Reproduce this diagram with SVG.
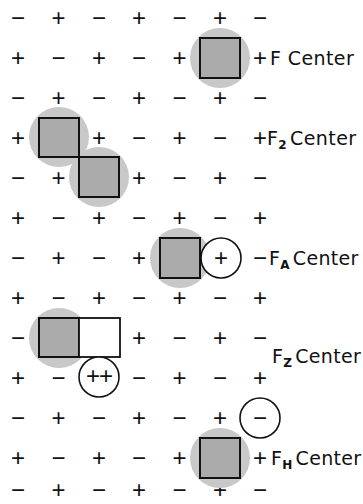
<svg xmlns="http://www.w3.org/2000/svg" width="363" height="504" viewBox="0 0 363 504">
<style>
.g{font-family:"Liberation Sans",Arial,sans-serif;font-size:24px;text-anchor:middle;fill:#111}
.halo{fill:#c8c8c8}
.sq{fill:#ababab;stroke:#111;stroke-width:2}
.esq{fill:#fff;stroke:#111;stroke-width:1.8}
.ion{fill:#fff;stroke:#111;stroke-width:1.6}
.lab{font-family:"DejaVu Sans","Liberation Sans",sans-serif;font-size:19px;fill:#111}
.sub{font-size:12px;font-weight:bold}
</style>
<rect width="363" height="504" fill="#fff"/>
<g id="lattice">
<text class="g" x="18" y="26">−</text><text class="g" x="58.5" y="26">+</text><text class="g" x="99" y="26">−</text><text class="g" x="139" y="26">+</text><text class="g" x="179.5" y="26">−</text><text class="g" x="220" y="26">+</text><text class="g" x="260" y="26">−</text>
<text class="g" x="18" y="66">+</text><text class="g" x="58.5" y="66">−</text><text class="g" x="99" y="66">+</text><text class="g" x="139" y="66">−</text><text class="g" x="179.5" y="66">+</text><text class="g" x="260" y="66">+</text>
<text class="g" x="18" y="106">−</text><text class="g" x="58.5" y="106">+</text><text class="g" x="99" y="106">−</text><text class="g" x="139" y="106">+</text><text class="g" x="179.5" y="106">−</text><text class="g" x="220" y="106">+</text><text class="g" x="260" y="106">−</text>
<text class="g" x="18" y="146">+</text><text class="g" x="99" y="146">+</text><text class="g" x="139" y="146">−</text><text class="g" x="179.5" y="146">+</text><text class="g" x="220" y="146">−</text><text class="g" x="260" y="146">+</text>
<text class="g" x="18" y="186">−</text><text class="g" x="58.5" y="186">+</text><text class="g" x="139" y="186">+</text><text class="g" x="179.5" y="186">−</text><text class="g" x="220" y="186">+</text><text class="g" x="260" y="186">−</text>
<text class="g" x="18" y="226">+</text><text class="g" x="58.5" y="226">−</text><text class="g" x="99" y="226">+</text><text class="g" x="139" y="226">−</text><text class="g" x="179.5" y="226">+</text><text class="g" x="220" y="226">−</text><text class="g" x="260" y="226">+</text>
<text class="g" x="18" y="266">−</text><text class="g" x="58.5" y="266">+</text><text class="g" x="99" y="266">−</text><text class="g" x="139" y="266">+</text><text class="g" x="260" y="266">−</text>
<text class="g" x="18" y="306">+</text><text class="g" x="58.5" y="306">−</text><text class="g" x="99" y="306">+</text><text class="g" x="139" y="306">−</text><text class="g" x="179.5" y="306">+</text><text class="g" x="220" y="306">−</text><text class="g" x="260" y="306">+</text>
<text class="g" x="18" y="346">−</text><text class="g" x="139" y="346">+</text><text class="g" x="179.5" y="346">−</text><text class="g" x="220" y="346">+</text><text class="g" x="260" y="346">−</text>
<text class="g" x="18" y="386">+</text><text class="g" x="58.5" y="386">−</text><text class="g" x="139" y="386">−</text><text class="g" x="179.5" y="386">+</text><text class="g" x="220" y="386">−</text><text class="g" x="260" y="386">+</text>
<text class="g" x="18" y="426">−</text><text class="g" x="58.5" y="426">+</text><text class="g" x="99" y="426">−</text><text class="g" x="139" y="426">+</text><text class="g" x="179.5" y="426">−</text><text class="g" x="220" y="426">+</text>
<text class="g" x="18" y="466">+</text><text class="g" x="58.5" y="466">−</text><text class="g" x="99" y="466">+</text><text class="g" x="139" y="466">−</text><text class="g" x="179.5" y="466">+</text><text class="g" x="260" y="466">+</text>
<text class="g" x="18" y="498">−</text><text class="g" x="58.5" y="498">+</text><text class="g" x="99" y="498">−</text><text class="g" x="139" y="498">+</text><text class="g" x="179.5" y="498">−</text><text class="g" x="220" y="498">+</text><text class="g" x="260" y="498">−</text>
</g>
<g id="f-center">
<circle class="halo" cx="220" cy="58" r="30"/>
<rect class="sq" x="200" y="38" width="40" height="40"/>
<text class="lab" x="270" y="65" letter-spacing="0.4">F Center</text>
</g>
<g id="f2-center">
<circle class="halo" cx="59" cy="137" r="30"/>
<circle class="halo" cx="99" cy="177" r="30"/>
<rect class="sq" x="39" y="118" width="40" height="39"/>
<rect class="sq" x="79" y="157" width="40" height="40"/>
<text class="lab" x="267" y="145" letter-spacing="0.4">F<tspan class="sub" font-size="14" dy="4">2</tspan><tspan dy="-4" dx="3">Center</tspan></text>
</g>
<g id="fa-center">
<circle class="halo" cx="180" cy="258" r="30"/>
<rect class="sq" x="160" y="238" width="40" height="40"/>
<circle class="ion" cx="221" cy="258" r="20"/>
<text class="g" x="221" y="266">+</text>
<text class="lab" x="269" y="265" letter-spacing="0.3">F<tspan class="sub" dy="4">A</tspan><tspan dy="-4" dx="3">Center</tspan></text>
</g>
<g id="fz-center">
<circle class="halo" cx="59" cy="338" r="30"/>
<rect class="sq" x="39" y="318" width="40" height="39"/>
<rect class="esq" x="79" y="318" width="41" height="39"/>
<circle class="ion" cx="99" cy="377" r="20"/>
<text class="g" x="99" y="384" font-size="21" letter-spacing="-1">++</text>
<text class="lab" x="272" y="363" letter-spacing="0.3">F<tspan class="sub" dy="4">Z</tspan><tspan dy="-4" dx="3">Center</tspan></text>
</g>
<g id="fh-center">
<circle class="halo" cx="220" cy="458" r="30"/>
<rect class="sq" x="200" y="438" width="40" height="40"/>
<circle class="ion" cx="260" cy="418" r="20"/>
<text class="g" x="260" y="426">−</text>
<text class="lab" x="271" y="465" letter-spacing="0.3">F<tspan class="sub" dy="4">H</tspan><tspan dy="-4" dx="3">Center</tspan></text>
</g>
</svg>
